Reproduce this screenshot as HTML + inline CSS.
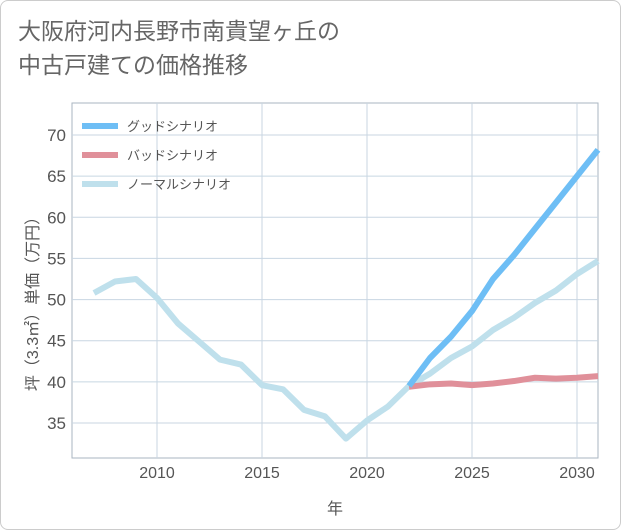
<!DOCTYPE html>
<html><head><meta charset="utf-8"><style>
body{margin:0;background:#fff;font-family:"Liberation Sans","Noto Sans CJK JP",sans-serif;}
#card{position:absolute;left:0;top:0;width:619px;height:528px;border:1px solid #ccc;border-radius:8px;background:#fff;}
#title{position:absolute;left:18px;top:14px;font-size:23px;line-height:34px;color:#666;}
</style></head><body>
<div id="card"></div>
<div id="title">大阪府河内長野市南貴望ヶ丘の<br>中古戸建ての価格推移</div>
<svg id="chart" width="621" height="530" style="position:absolute;left:0;top:0"></svg>
<script>
const years=[2007,2008,2009,2010,2011,2012,2013,2014,2015,2016,2017,2018,2019,2020,2021,2022,2023,2024,2025,2026,2027,2028,2029,2030,2031];
const normalVals=[50.8,52.2,52.5,50.2,47.1,44.9,42.7,42.1,39.6,39.1,36.6,35.8,33.1,35.3,37.0,39.5,41.0,42.9,44.3,46.3,47.8,49.6,51.1,53.1,54.7];
const futureYears=[2022,2023,2024,2025,2026,2027,2028,2029,2030,2031];
const goodVals=[39.5,42.9,45.5,48.6,52.5,55.4,58.6,61.8,65.0,68.2];
const badVals=[39.4,39.7,39.8,39.6,39.8,40.1,40.5,40.4,40.5,40.7];
const xTicks=[2010,2015,2020,2025,2030];
const yTicks=[35,40,45,50,55,60,65,70];
const seriesNames=["グッドシナリオ","バッドシナリオ","ノーマルシナリオ"];
const NS="http://www.w3.org/2000/svg";
const svg=document.getElementById('chart');
const L=72,R=598,T=103,B=458;
const x=v=>157+(v-2010)*21;
const y=v=>135+(70-v)*(288/35);
function mk(t,a){const e=document.createElementNS(NS,t);for(const k in a)e.setAttribute(k,a[k]);svg.appendChild(e);return e;}
let bg=mk('rect',{x:L,y:T,width:R-L,height:B-T,fill:'#fff',stroke:'#aab5c0'});


xTicks.forEach(v=>{
 let g=mk('line',{x1:x(v),x2:x(v),y1:T,y2:B,stroke:'#c8d6e2'});
 
 
 let t=mk('text',{x:x(v),y:478,'text-anchor':'middle','font-size':16,fill:'#555'});t.textContent=v;
 
 
});
yTicks.forEach(v=>{
 let g=mk('line',{x1:L,x2:R,y1:y(v),y2:y(v),stroke:'#c8d6e2'});
 
 
 let t=mk('text',{x:66,y:y(v)+6,'text-anchor':'end','font-size':17,fill:'#555'});t.textContent=v;
 
 
});
let xt=mk('text',{x:335,y:514,'text-anchor':'middle','font-size':16,fill:'#555'});xt.textContent='年';


let yt=mk('text',{x:0,y:0,'text-anchor':'middle','font-size':16,fill:'#555',transform:'translate(38,300) rotate(-90)'});yt.textContent='坪（3.3㎡）単価（万円）';


function line(xs,vs,col,name){
 const p=mk('polyline',{points:xs.map((v,i)=>x(v)+','+y(vs[i])).join(' '),fill:'none',stroke:col,'stroke-width':6,'stroke-linejoin':'round'});
 
 
}
line(years,normalVals,'#bfe0ec','normal-scenario-line');
line(futureYears,badVals,'#e0909a','bad-scenario-line');
line(futureYears,goodVals,'#6ebef5','good-scenario-line');
const cols=['#6ebef5','#e0909a','#bfe0ec'];
seriesNames.forEach((n,i)=>{
 const yy=126+i*29;
 let l=mk('line',{x1:82,x2:118,y1:yy,y2:yy,stroke:cols[i],'stroke-width':6});
 
 
 let t=mk('text',{x:127,y:yy+5,'font-size':13,fill:'#555'});t.textContent=n;
 
 
});
</script>
</body></html>
